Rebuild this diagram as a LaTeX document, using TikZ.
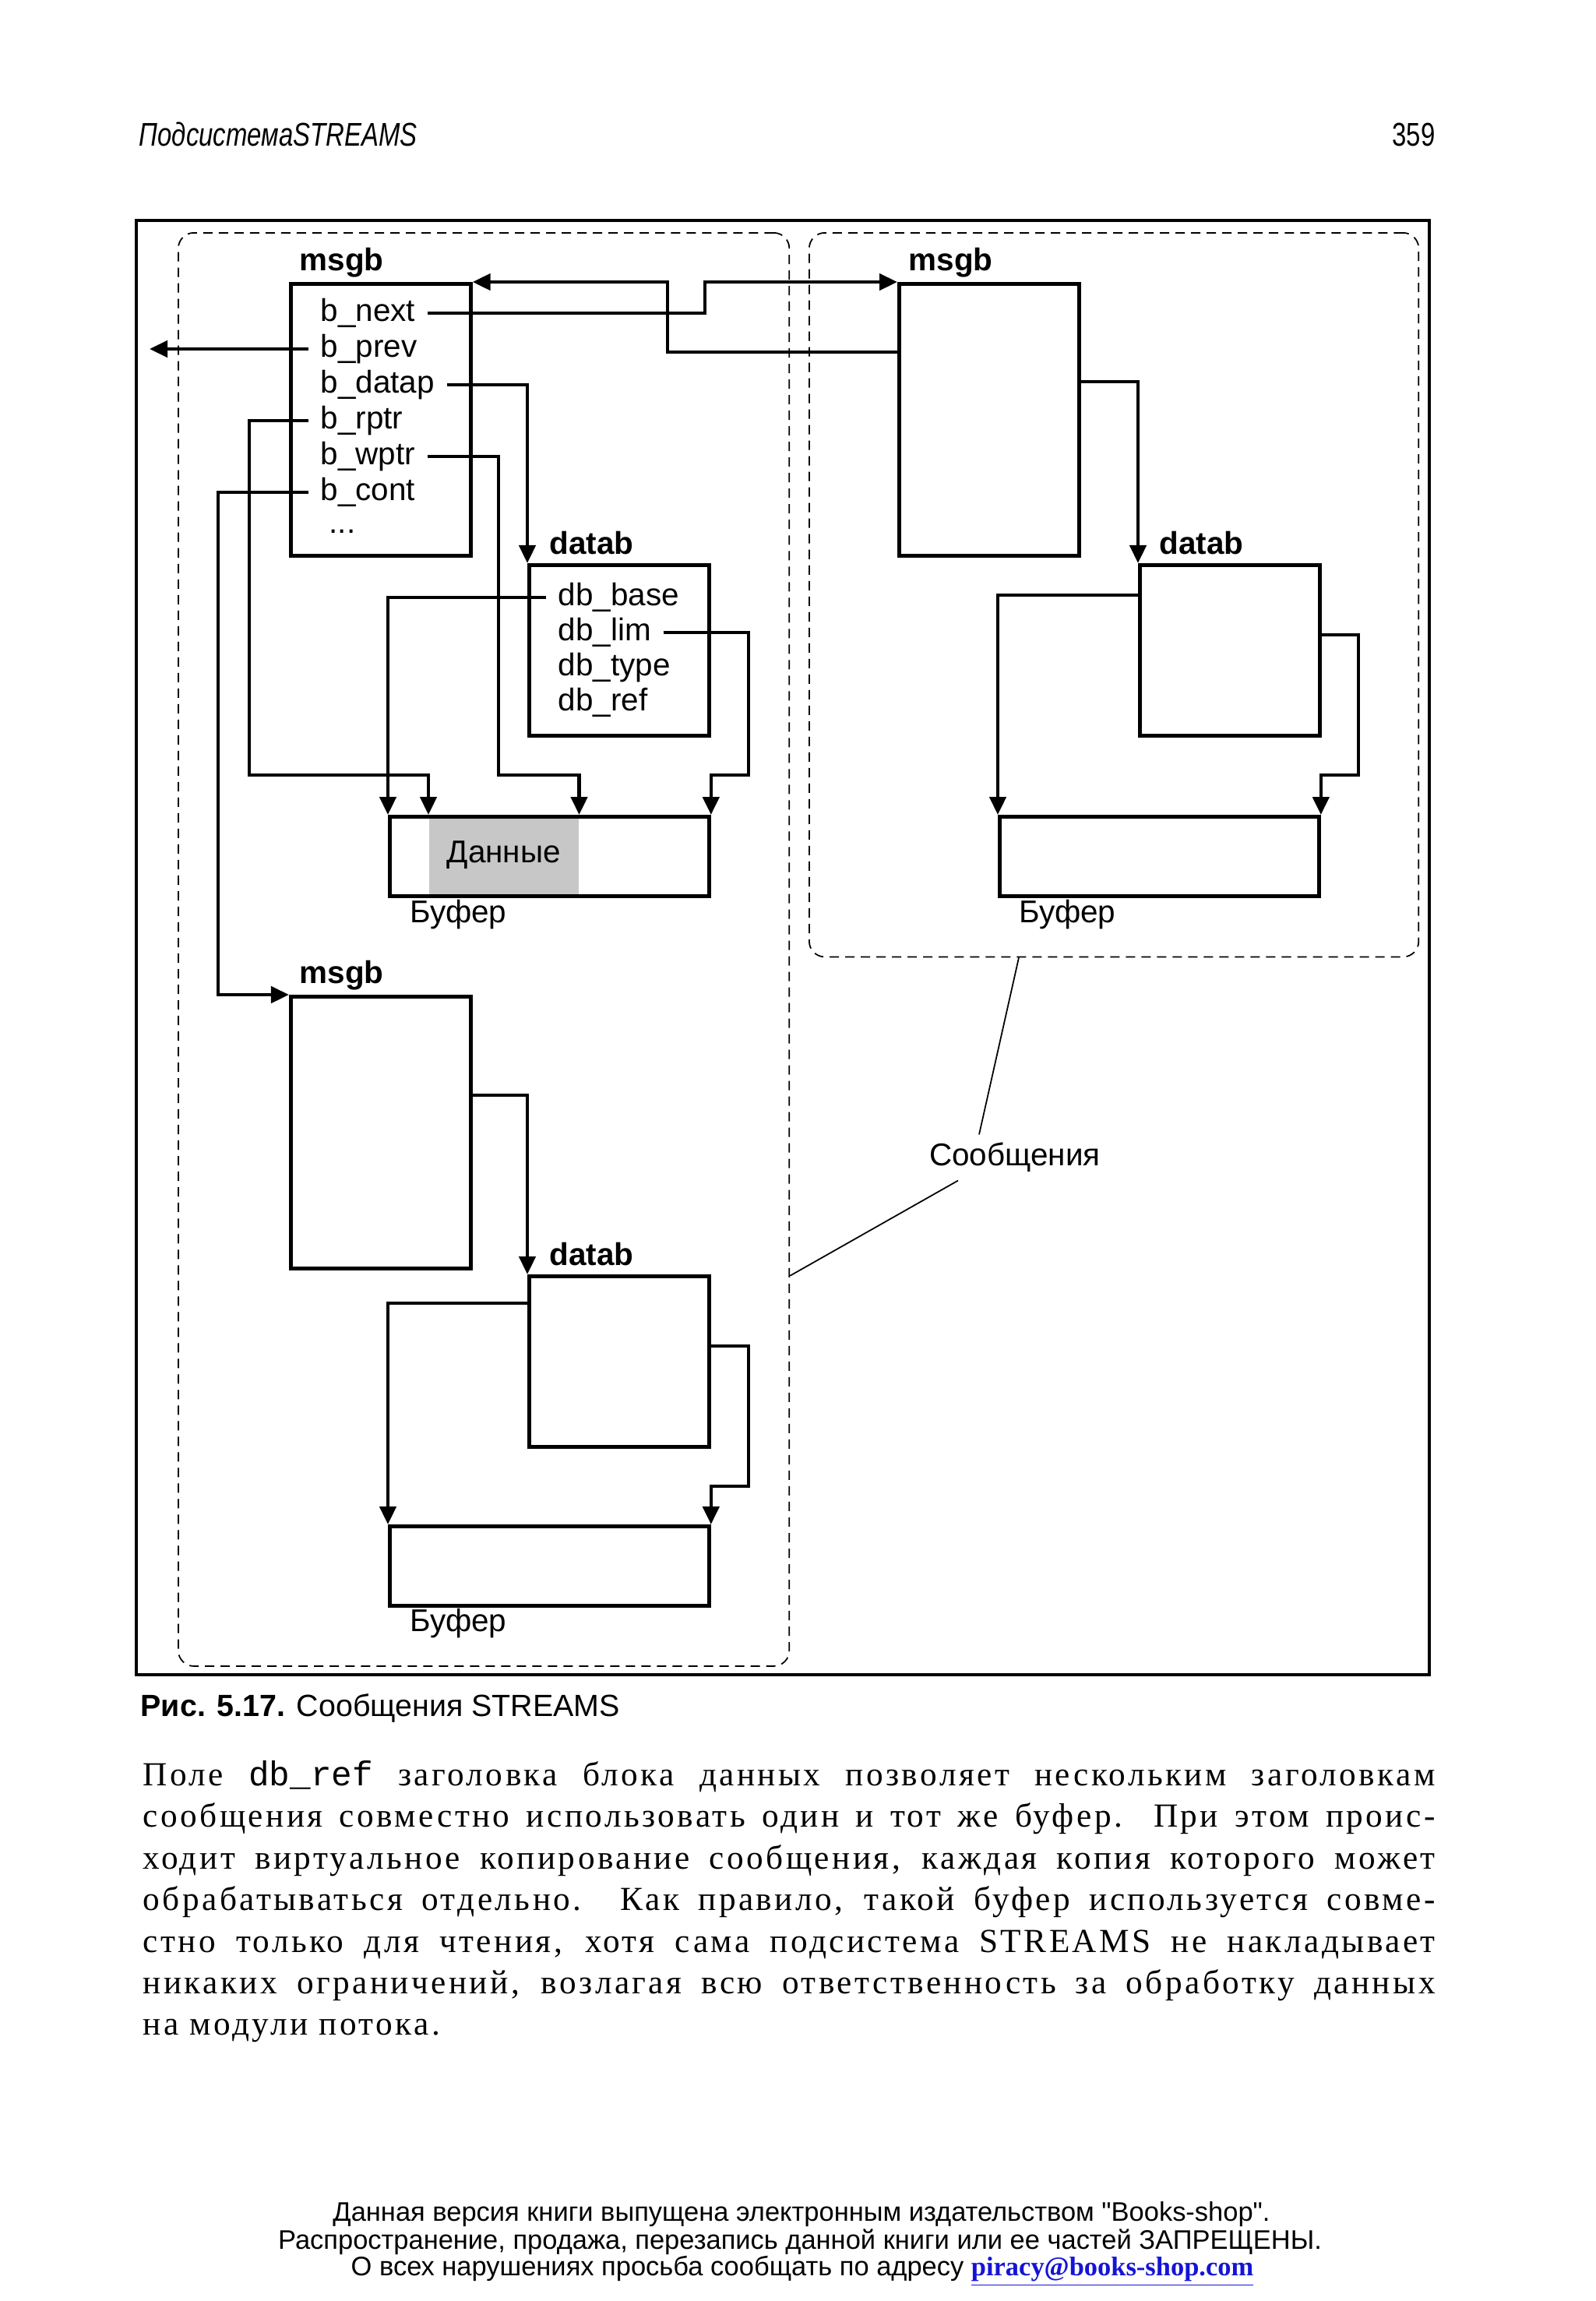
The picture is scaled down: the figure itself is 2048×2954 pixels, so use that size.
\documentclass[tikz,border=0pt]{standalone}
\usepackage{fontspec}
\setmainfont{Liberation Serif}
\setsansfont{Liberation Sans}
\setmonofont{Liberation Mono}
\newfontfamily\headfont[FakeStretch=0.78]{Liberation Sans}
\newfontfamily\parafont[LetterSpace=8]{Liberation Serif}
\newfontfamily\footfont[Ligatures=TeXOff]{Liberation Sans}
\usepackage{xcolor}
\usetikzlibrary{positioning, arrows.meta, calc}
\definecolor{linkblue}{RGB}{20,20,215}

\begin{document}
\begin{tikzpicture}[
    x=0.01cm, y=-0.01cm,
    box/.style={draw, line width=1.3pt, anchor=north west, inner sep=0pt, minimum width=2.31cm},
    msgbox/.style={box, minimum height=3.49cm},
    datbox/.style={box, minimum height=2.19cm},
    bufbox/.style={box, minimum width=4.10cm, minimum height=1.02cm},
    group/.style={draw, line width=0.5pt, dash pattern=on 1.2mm off 0.8mm, rounded corners=2mm, anchor=north west, inner sep=0pt},
    title/.style={font=\sffamily\bfseries\fontsize{11.5}{13}\selectfont, anchor=base west, inner sep=0pt},
    field/.style={font=\sffamily\fontsize{11.5}{13}\selectfont, anchor=base west, inner xsep=1.5mm, inner ysep=0pt, text height=2.9mm, text depth=0.9mm},
    lbl/.style={font=\sffamily\fontsize{11.5}{13}\selectfont, inner sep=0pt},
    paraline/.style={font=\parafont\fontsize{12.3}{15}\selectfont, anchor=base west, inner sep=0pt},
    footline/.style={font=\footfont\fontsize{9.8}{11}\selectfont, anchor=base, inner sep=0pt},
    ptr/.style={line width=1.3pt, -{Triangle[length=2.3mm, width=2.1mm]}},
    leader/.style={line width=0.5pt}
]
    \fill[white] (0,0) rectangle (2048,2954);
    \useasboundingbox (0,0) rectangle (2048,2954);

    % --- Running head ---
    \node[anchor=base west, inner sep=0pt, font=\headfont\itshape\fontsize{12}{14}\selectfont] (runhead) at (178,187) {ПодсистемаSTREAMS};
    \node[anchor=base east, inner sep=0pt, font=\headfont\fontsize{12}{14}\selectfont] (pageno) at (1843,187) {359};

    % --- Frame and message groups ---
    \draw[line width=1.2pt] (175,283) rectangle (1835,2150);
    \node[group, minimum width=7.84cm, minimum height=18.39cm] (grpA) at (228,298) {};
    \node[group, minimum width=7.82cm, minimum height=9.29cm] (grpB) at (1038,298) {};

    % --- First message ---
    \node[msgbox] (msgA) at (371,362) {};
    \node[title] (msgAt) at (384,347) {msgb};
    \node[field] (bnext) at (396,412) {b\_next};
    \node[field] (bprev) at (396,458) {b\_prev};
    \node[field] (bdatap) at (396,504) {b\_datap};
    \node[field] (brptr) at (396,550) {b\_rptr};
    \node[field] (bwptr) at (396,596) {b\_wptr};
    \node[field] (bcont) at (396,642) {b\_cont};
    \node[field] (bdots) at (407,684) {...};

    \node[datbox] (datA) at (677,723) {};
    \node[title] (datAt) at (705,711) {datab};
    \node[field] (dbbase) at (701,777) {db\_base};
    \node[field] (dblim) at (701,822) {db\_lim};
    \node[field] (dbtype) at (701,867) {db\_type};
    \node[field] (dbref) at (701,912) {db\_ref};

    \node[lbl, anchor=north west, fill=black!22, minimum width=1.92cm, minimum height=1.02cm] (dataA) at (550,1046) {Данные};
    \node[bufbox] (bufA) at (498,1046) {};
    \node[lbl, anchor=base west] (bufAt) at (526,1184) {Буфер};

    % --- Second message ---
    \node[msgbox] (msgB) at (1152,362) {};
    \node[title] (msgBt) at (1166,347) {msgb};
    \node[datbox] (datB) at (1461,723) {};
    \node[title] (datBt) at (1488,711) {datab};
    \node[bufbox] (bufB) at (1281,1046) {};
    \node[lbl, anchor=base west] (bufBt) at (1308,1184) {Буфер};

    % --- Continuation block ---
    \node[msgbox] (msgC) at (371,1277) {};
    \node[title] (msgCt) at (384,1262) {msgb};
    \node[datbox] (datC) at (677,1636) {};
    \node[title] (datCt) at (705,1624) {datab};
    \node[bufbox] (bufC) at (498,1957) {};
    \node[lbl, anchor=base west] (bufCt) at (526,2094) {Буфер};

    % --- Pointers of the first message ---
    \coordinate (prevend) at (192,452);
    \draw[ptr] (bnext.east) -| (905,362) -- (msgB.north west);
    \draw[ptr] ($(msgB.north west)+(0,90)$) -| (857,362) -- (msgA.north east);
    \draw[ptr] (bprev.west) -- (bprev.west -| prevend);
    \draw[ptr] (bdatap.east) -| (datA.north west);
    \draw[ptr] (brptr.west) -| (320,995) -| (dataA.north west);
    \draw[ptr] (bwptr.east) -| (640,995) -| (dataA.north east);
    \draw[ptr] (bcont.west) -| (280,1277) -- (msgC.north west);
    \draw[ptr] (dbbase.west) -| (bufA.north west);
    \draw[ptr] (dblim.east) -| (961,995) -| (bufA.north east);

    % --- Pointers of the second message ---
    \draw[ptr] ($(msgB.north east)+(0,128)$) -| (datB.north west);
    \draw[ptr] ($(datB.north west)+(0,41)$) -| (bufB.north west);
    \draw[ptr] ($(datB.north east)+(0,92)$) -| (1744,995) -| (bufB.north east);

    % --- Pointers of the continuation block ---
    \draw[ptr] ($(msgC.north east)+(0,129)$) -| (datC.north west);
    \draw[ptr] ($(datC.north west)+(0,37)$) -| (bufC.north west);
    \draw[ptr] ($(datC.north east)+(0,92)$) -| (961,1908) -| (bufC.north east);

    % --- Callout ---
    \node[lbl, inner sep=1mm] (msgs) at (1303,1486) {Сообщения};
    \draw[leader] ($(msgs.north)+(-46,0)$) -- ($(grpB.south west)+(270,0)$);
    \draw[leader] ($(msgs.south)+(-73,0)$) -- ($(grpA.south east)+(0,-502)$);

    % --- Caption ---
    \node[anchor=base west, inner sep=0pt, font=\sffamily\fontsize{11.2}{13}\selectfont] (caption) at (180,2203) {\textbf{Рис. 5.17.} Сообщения STREAMS};

    % --- Body text ---
    \node[paraline] (par1) at (183,2292) {\makebox[16.58cm][s]{Поле {\ttfamily\fontsize{12.6}{15}\selectfont db\_ref} заголовка блока данных позволяет нескольким заголовкам}};
    \node[paraline] (par2) at (183,2345) {\makebox[16.58cm][s]{сообщения совместно использовать один и тот же буфер. При этом проис-}};
    \node[paraline] (par3) at (183,2399) {\makebox[16.58cm][s]{ходит виртуальное копирование сообщения, каждая копия которого может}};
    \node[paraline] (par4) at (183,2452) {\makebox[16.58cm][s]{обрабатываться отдельно. Как правило, такой буфер используется совме-}};
    \node[paraline] (par5) at (183,2506) {\makebox[16.58cm][s]{стно только для чтения, хотя сама подсистема STREAMS не накладывает}};
    \node[paraline] (par6) at (183,2559) {\makebox[16.58cm][s]{никаких ограничений, возлагая всю ответственность за обработку данных}};
    \node[paraline] (par7) at (183,2612) {на модули потока.};

    % --- Footer ---
    \node[footline] (foot1) at (1029,2851) {Данная версия книги выпущена электронным издательством "Books-shop".};
    \node[footline] (foot2) at (1027,2887) {Распространение, продажа, перезапись данной книги или ее частей ЗАПРЕЩЕНЫ.};
    \node[footline] (foot3) at (1030,2921) {О всех нарушениях просьба сообщать по адресу {\color{linkblue}\rmfamily\bfseries\underline{piracy@books-shop.com}}};
\end{tikzpicture}
\end{document}
